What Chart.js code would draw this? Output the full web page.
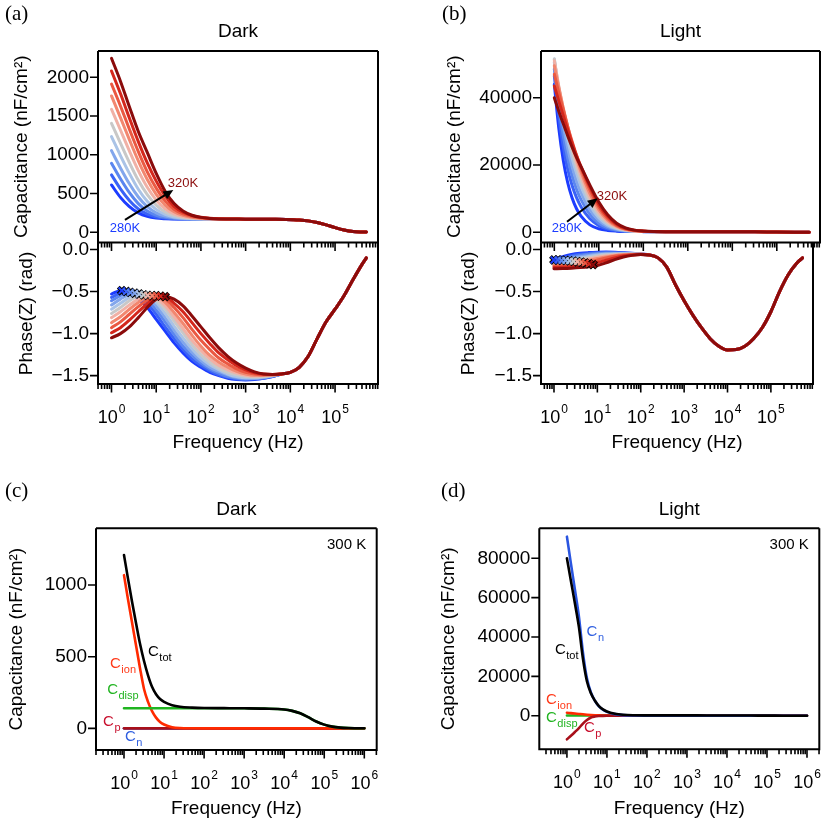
<!DOCTYPE html>
<html>
<head>
<meta charset="utf-8">
<script src="https://cdn.jsdelivr.net/npm/chart.js@4.4.1/dist/chart.umd.min.js"></script>
<style>
  html, body { margin: 0; padding: 0; background: #fff; }
  #wrap { position: relative; width: 822px; height: 820px; }
  #wrap canvas { position: absolute; left: 0; top: 0; }
</style>
</head>
<body>
<div id="wrap">
  <canvas id="capDark" width="822" height="820"></canvas>
  <canvas id="phaseDark" width="822" height="820"></canvas>
  <canvas id="capLight" width="822" height="820"></canvas>
  <canvas id="phaseLight" width="822" height="820"></canvas>
  <canvas id="partsDark" width="822" height="820"></canvas>
  <canvas id="partsLight" width="822" height="820"></canvas>
</div>
<script>
// ---------- data ----------
const temps = [280, 284, 288, 292, 296, 300, 304, 308, 312, 316, 320];
const tempColors = ['#1c3cff', '#3a62f6', '#5b86ef', '#82a6ec', '#aac3e6', '#c8c8c8',
                    '#f0b1a6', '#f2876f', '#ea5942', '#d4271c', '#8b0b0b'];

// (a) dark capacitance (nF/cm2), low-frequency part, one row per temperature
const fCapDark = [1, 1.585, 2.512, 3.981, 6.31, 10, 15.85, 25.12, 39.81, 63.1, 100, 158.5, 251.2, 398.1];
const capDark = [
  [610, 450, 330, 250, 205, 183, 175, 172, 171, 171, 171, 171, 170, 170],
  [740, 560, 410, 300, 235, 198, 182, 175, 172, 171, 171, 171, 170, 170],
  [890, 690, 510, 370, 275, 220, 192, 180, 174, 172, 171, 171, 170, 170],
  [1053, 830, 625, 455, 330, 250, 208, 187, 177, 173, 172, 171, 170, 170],
  [1234, 990, 760, 555, 400, 295, 230, 198, 183, 176, 173, 172, 171, 170],
  [1406, 1150, 900, 670, 485, 350, 262, 215, 191, 180, 175, 173, 171, 170],
  [1587, 1320, 1050, 795, 580, 415, 302, 238, 203, 186, 178, 174, 172, 171],
  [1759, 1480, 1195, 920, 680, 490, 350, 265, 218, 194, 182, 176, 173, 171],
  [1913, 1630, 1330, 1040, 780, 570, 405, 297, 236, 203, 187, 178, 174, 172],
  [2081, 1790, 1475, 1170, 895, 660, 470, 335, 258, 215, 193, 181, 175, 172],
  [2245, 1950, 1620, 1300, 1030, 760, 530, 370, 275, 220, 192, 178, 172, 171]
];
// common high-frequency part (all temperatures overlap)
const fCapDarkTail = [631, 1000, 1995, 3981, 7943, 15850, 25120, 39810, 63100, 100000, 158500, 251200, 398100, 501200];
const capDarkTail = [170, 169, 168, 167, 165, 158, 147, 125, 95, 60, 30, 10, 4, 3];

// (a) dark phase (rad)
const fPhaseDark = [1, 1.585, 2.512, 3.981, 6.31, 10, 15.85, 25.12, 39.81, 63.1, 100, 158.5, 251.2, 398.1,
                    631, 1000, 1585, 2512, 3981, 6310];
const phaseDark = [
  [-0.53, -0.49, -0.52, -0.59, -0.69, -0.83, -0.97, -1.11, -1.23, -1.33, -1.40, -1.46, -1.50, -1.53, -1.545, -1.55, -1.545, -1.53, -1.51, -1.48],
  [-0.57, -0.52, -0.505, -0.55, -0.64, -0.77, -0.92, -1.06, -1.19, -1.30, -1.38, -1.44, -1.49, -1.52, -1.54, -1.545, -1.54, -1.53, -1.51, -1.48],
  [-0.61, -0.55, -0.51, -0.53, -0.60, -0.72, -0.86, -1.01, -1.15, -1.26, -1.35, -1.42, -1.47, -1.51, -1.53, -1.54, -1.535, -1.525, -1.505, -1.48],
  [-0.66, -0.59, -0.535, -0.525, -0.57, -0.67, -0.81, -0.96, -1.10, -1.22, -1.32, -1.40, -1.45, -1.49, -1.52, -1.53, -1.53, -1.52, -1.50, -1.48],
  [-0.71, -0.64, -0.57, -0.53, -0.55, -0.63, -0.76, -0.91, -1.05, -1.18, -1.29, -1.37, -1.43, -1.48, -1.51, -1.525, -1.525, -1.515, -1.50, -1.48],
  [-0.76, -0.69, -0.61, -0.555, -0.545, -0.60, -0.71, -0.85, -0.99, -1.13, -1.25, -1.34, -1.41, -1.46, -1.49, -1.51, -1.515, -1.51, -1.495, -1.48],
  [-0.81, -0.74, -0.66, -0.59, -0.545, -0.575, -0.67, -0.80, -0.94, -1.08, -1.20, -1.30, -1.38, -1.43, -1.47, -1.495, -1.505, -1.50, -1.49, -1.48],
  [-0.87, -0.80, -0.71, -0.63, -0.565, -0.56, -0.63, -0.75, -0.88, -1.02, -1.15, -1.26, -1.34, -1.40, -1.45, -1.48, -1.495, -1.495, -1.49, -1.48],
  [-0.93, -0.86, -0.77, -0.68, -0.60, -0.55, -0.59, -0.69, -0.81, -0.95, -1.08, -1.19, -1.29, -1.36, -1.42, -1.46, -1.48, -1.49, -1.49, -1.48],
  [-0.99, -0.93, -0.84, -0.74, -0.645, -0.57, -0.565, -0.64, -0.74, -0.87, -1.00, -1.12, -1.23, -1.31, -1.38, -1.43, -1.465, -1.48, -1.485, -1.48],
  [-1.05, -1.00, -0.92, -0.81, -0.69, -0.59, -0.56, -0.59, -0.67, -0.79, -0.92, -1.05, -1.17, -1.27, -1.35, -1.41, -1.455, -1.48, -1.485, -1.48]
];
const fPhaseDarkTail = [10000, 15850, 25120, 39810, 63100, 100000, 158500, 251200, 398100, 501200];
const phaseDarkTail = [-1.46, -1.40, -1.27, -1.06, -0.86, -0.71, -0.55, -0.36, -0.18, -0.10];
// phase maxima marked with crosses
const peakFDark = [1.7, 2.14, 2.63, 3.31, 4.17, 5.25, 6.46, 8.13, 10, 12.6, 15.8];
const peakPhaseDark = [-0.49, -0.50, -0.51, -0.52, -0.53, -0.54, -0.545, -0.55, -0.55, -0.555, -0.56];

// (b) light capacitance
const fCapLight = [1, 1.259, 1.585, 1.995, 2.512, 3.162, 3.981, 6.31, 10, 15.85, 25.12, 39.81, 63.1, 100];
const capLight = [
  [44000, 31000, 21500, 14800, 10200, 7000, 4800, 2200, 1050, 550, 340, 250, 215, 200],
  [46500, 34500, 25500, 18800, 13900, 10300, 7600, 4000, 2000, 1000, 530, 330, 240, 205],
  [48500, 37500, 28800, 22000, 16800, 12800, 9700, 5300, 2700, 1350, 690, 400, 270, 215],
  [50500, 40000, 31800, 25000, 19500, 15200, 11800, 6700, 3500, 1750, 880, 480, 300, 225],
  [51500, 42000, 34200, 27500, 22000, 17500, 13700, 8000, 4300, 2200, 1100, 570, 330, 240],
  [51500, 43000, 35800, 29500, 24000, 19300, 15300, 9200, 5100, 2650, 1300, 660, 370, 260],
  [51000, 43500, 36800, 30800, 25500, 20800, 16800, 10400, 5900, 3100, 1550, 760, 410, 280],
  [49500, 43000, 37000, 31500, 26500, 22000, 18000, 11500, 6700, 3600, 1800, 880, 460, 300],
  [47000, 41500, 36500, 31500, 27000, 22800, 19000, 12600, 7500, 4100, 2050, 1000, 520, 320],
  [43500, 39000, 34700, 30500, 26500, 22800, 19500, 13500, 8300, 4700, 2400, 1150, 580, 350],
  [40000, 36000, 32300, 28700, 25300, 22200, 19500, 14000, 9000, 5200, 2700, 1300, 650, 380]
];
const fCapLightTail = [316.2, 1000, 3162, 10000, 31620, 100000, 251200, 537000];
const capLightTail = [180, 170, 165, 160, 130, 60, 15, 5];

// (b) light phase
const fPhaseLight = [1, 1.585, 2.512, 3.981, 6.31, 10, 15.85, 25.12, 39.81, 63.1, 100];
const phaseLight = [
  [-0.12, -0.085, -0.06, -0.045, -0.037, -0.032, -0.03, -0.032, -0.038, -0.046, -0.055],
  [-0.13, -0.10, -0.075, -0.058, -0.047, -0.04, -0.037, -0.038, -0.042, -0.048, -0.056],
  [-0.14, -0.115, -0.09, -0.072, -0.058, -0.048, -0.043, -0.043, -0.046, -0.05, -0.057],
  [-0.15, -0.13, -0.107, -0.087, -0.07, -0.058, -0.05, -0.048, -0.049, -0.052, -0.057],
  [-0.16, -0.145, -0.123, -0.102, -0.083, -0.068, -0.058, -0.053, -0.052, -0.054, -0.058],
  [-0.17, -0.158, -0.14, -0.118, -0.097, -0.08, -0.067, -0.059, -0.056, -0.056, -0.058],
  [-0.18, -0.17, -0.155, -0.135, -0.113, -0.093, -0.077, -0.066, -0.06, -0.058, -0.058],
  [-0.19, -0.183, -0.17, -0.152, -0.13, -0.108, -0.088, -0.073, -0.064, -0.06, -0.058],
  [-0.20, -0.196, -0.186, -0.17, -0.149, -0.125, -0.10, -0.08, -0.068, -0.062, -0.058],
  [-0.215, -0.211, -0.204, -0.193, -0.177, -0.155, -0.128, -0.10, -0.078, -0.066, -0.059],
  [-0.23, -0.227, -0.222, -0.215, -0.205, -0.19, -0.16, -0.12, -0.09, -0.07, -0.06]
];
const fPhaseLightTail = [158.5, 251.2, 398.1, 631, 1000, 1585, 2512, 3981, 6310, 10000, 15850, 25120,
                         39810, 63100, 100000, 158500, 251200, 398100, 537000];
const phaseLightTail = [-0.065, -0.10, -0.21, -0.42, -0.61, -0.78, -0.93, -1.06, -1.15, -1.195, -1.19, -1.15,
                        -1.06, -0.93, -0.74, -0.50, -0.30, -0.16, -0.10];
const peakFLight = [1, 1.23, 1.51, 1.86, 2.29, 2.82, 3.47, 4.27, 5.25, 6.46, 7.94];
const peakPhaseLight = [-0.125, -0.125, -0.13, -0.13, -0.135, -0.14, -0.145, -0.15, -0.16, -0.17, -0.18];

// (c), (d) capacitance components at 300 K
const fParts = [1, 1.259, 1.585, 1.995, 2.512, 3.162, 3.981, 5.012, 6.31, 7.943, 10, 15.85, 25.12, 50.12, 100,
                316.2, 1000, 3162, 10000, 15850, 25120, 39810, 63100, 100000, 158500, 251200, 398100, 631000, 1000000];
const darkTot  = [1210, 1045, 885, 735, 590, 470, 370, 290, 238, 205, 185, 162, 151, 145, 142,
                  141, 140, 138, 132, 122, 105, 78, 48, 26, 12, 5, 2, 1, 0.5];
const darkIon  = [1069, 900, 740, 580, 420, 275, 185, 120, 75, 45, 27, 8, 2, 0.5, 0,
                  0, 0, 0, 0, 0, 0, 0, 0, 0, 0, 0, 0, 0, 0];
const darkDisp = [140, 140, 140, 140, 140, 140, 140, 140, 140, 140, 140, 140, 140, 140, 140,
                  140, 140, 138, 132, 122, 105, 78, 48, 26, 12, 5, 2, 1, 0.5];
const darkP    = [0, 0, 0, 0, 0, 0, 0, 0, 0, 0, 0, 0, 0, 0, 0, 0, 0, 0, 0, 0, 0, 0, 0, 0, 0, 0, 0, 0, 0];
const darkN    = [0, 0, 0, 0, 0, 0, 0, 0, 0, 0, 0, 0, 0, 0, 0, 0, 0, 0, 0, 0, 0, 0, 0, 0, 0, 0, 0, 0, 0];

const lightTot  = [80000, 68500, 57000, 45000, 29000, 17500, 11400, 7600, 4900, 3200, 2100, 950, 450, 220, 170,
                   150, 145, 140, 135, 125, 110, 85, 55, 30, 15, 7, 3, 1, 0.5];
const lightN    = [91000, 77300, 64000, 50300, 32200, 19000, 11800, 7600, 4780, 3050, 1950, 800, 300, 80, 30,
                   10, 5, 0, 0, 0, 0, 0, 0, 0, 0, 0, 0, 0, 0];
const lightP    = [-12000, -10200, -8300, -6300, -4000, -2200, -900, -400, -180, -90, -50, -15, 0, 0, 0,
                   0, 0, 0, 0, 0, 0, 0, 0, 0, 0, 0, 0, 0, 0];
const lightIon  = [1500, 1300, 1100, 900, 700, 520, 370, 250, 160, 100, 60, 20, 6, 1, 0,
                   0, 0, 0, 0, 0, 0, 0, 0, 0, 0, 0, 0, 0, 0];
const lightDisp = [140, 140, 140, 140, 140, 140, 140, 140, 140, 140, 140, 140, 140, 140, 140,
                   140, 140, 138, 132, 122, 105, 78, 48, 26, 12, 5, 2, 1, 0.5];

// tick labels
const capDarkTicks = [0, 500, 1000, 1500, 2000];
const capLightTicks = [0, 20000, 40000];
const phaseTicks = [-1.5, -1.0, -0.5, 0];
const partsDarkTicks = [0, 500, 1000];
const partsLightTicks = [0, 20000, 40000, 60000, 80000];
const decadesAB = [0, 1, 2, 3, 4, 5];
const decadesCD = [0, 1, 2, 3, 4, 5, 6];

const partColors = { tot: '#000000', ion: '#ff2a00', disp: '#1fb41f', p: '#a8101a', n: '#2a55e0' };
const partLabelColors = { tot: '#000000', ion: '#ff3a1a', disp: '#22b422', p: '#c8102e', n: '#2f5fe0' };

Chart.defaults.font.family = '"Liberation Sans", Arial, sans-serif';
Chart.defaults.color = '#000';

// ---------- helpers ----------
function pts(fs, vs) {
  return fs.map((f, i) => ({ x: f, y: vs[i] }));
}

function tempSets(fLow, rows, fTail, tail) {
  return rows.map((row, i) => ({
    data: pts(fLow.concat(fTail), row.concat(tail)),
    borderColor: tempColors[i],
    borderWidth: 3
  }));
}

function markerSets(fs, vs) {
  const data = pts(fs, vs);
  return [
    { data, showLine: false, pointStyle: 'crossRot', pointRadius: 5, pointBorderWidth: 4, pointBorderColor: '#000' },
    { data, showLine: false, pointStyle: 'crossRot', pointRadius: 4.5, pointBorderWidth: 2, pointBorderColor: tempColors }
  ];
}

function partSet(vs, key) {
  return { data: pts(fParts, vs), borderColor: partColors[key], borderWidth: 2.6 };
}

function drawSub(ctx, main, sub, x, y, color, size, align) {
  ctx.font = size + 'px "Liberation Sans"';
  const w = ctx.measureText(main).width;
  ctx.font = Math.round(size * 0.7) + 'px "Liberation Sans"';
  const ws = sub ? ctx.measureText(sub).width : 0;
  let x0 = x;
  if (align === 'center') x0 = x - (w + ws) / 2;
  ctx.fillStyle = color;
  ctx.textAlign = 'left';
  ctx.textBaseline = 'middle';
  ctx.font = size + 'px "Liberation Sans"';
  ctx.fillText(main, x0, y);
  if (sub) {
    ctx.font = Math.round(size * 0.7) + 'px "Liberation Sans"';
    ctx.fillText(sub, x0 + w + 0.5, y + size * 0.4);
  }
}

// frame, outward ticks, decade labels, titles and annotations
const decor = {
  id: 'decor',
  afterDraw(chart, args, o) {
    const { ctx, chartArea: a, scales: { x, y } } = chart;
    ctx.save();
    ctx.strokeStyle = '#000';
    ctx.fillStyle = '#000';

    // frame (phase panels share the top edge with the panel above)
    ctx.lineWidth = 2;
    ctx.beginPath();
    if (!o.noTop) {
      ctx.moveTo(a.left, a.top); ctx.lineTo(a.right, a.top);
    }
    ctx.moveTo(a.left, a.top); ctx.lineTo(a.left, a.bottom);
    ctx.lineTo(a.right, a.bottom); ctx.lineTo(a.right, a.top);
    ctx.stroke();

    // y ticks
    ctx.lineWidth = 1.6;
    ctx.beginPath();
    y.ticks.forEach(t => {
      const py = y.getPixelForValue(t.value);
      ctx.moveTo(a.left - 8, py); ctx.lineTo(a.left, py);
    });
    // log x ticks
    const lo = Math.floor(Math.log10(x.min)), hi = Math.ceil(Math.log10(x.max));
    for (let k = lo; k <= hi; k++) {
      for (let m = 1; m < 10; m++) {
        const v = m * Math.pow(10, k);
        if (v < x.min || v > x.max) continue;
        const px = x.getPixelForValue(v);
        ctx.moveTo(px, a.bottom); ctx.lineTo(px, a.bottom + (m === 1 ? 8.5 : 5));
      }
    }
    ctx.stroke();

    // decade labels 10^k
    if (o.decades) {
      o.decades.forEach(k => {
        const px = x.getPixelForValue(Math.pow(10, k));
        ctx.font = '18px "Liberation Sans"';
        const w1 = ctx.measureText('10').width;
        ctx.font = '12px "Liberation Sans"';
        const w2 = ctx.measureText(String(k)).width;
        const x0 = px - (w1 + w2 + 1) / 2;
        ctx.textAlign = 'left';
        ctx.textBaseline = 'alphabetic';
        ctx.font = '18px "Liberation Sans"';
        ctx.fillText('10', x0, a.bottom + 39);
        ctx.font = '12px "Liberation Sans"';
        ctx.fillText(String(k), x0 + w1 + 1, a.bottom + 29);
      });
    }

    // panel title and letter
    if (o.title) {
      ctx.font = '19px "Liberation Sans"';
      ctx.textAlign = 'center';
      ctx.textBaseline = 'middle';
      ctx.fillText(o.title, (a.left + a.right) / 2, a.top - 19);
    }
    if (o.letter) {
      ctx.font = '21px "Liberation Serif"';
      ctx.textAlign = 'left';
      ctx.textBaseline = 'middle';
      ctx.fillText(o.letter.text, o.letter.x, o.letter.y);
    }
    if (o.corner) {
      ctx.font = '15px "Liberation Sans"';
      ctx.textAlign = 'right';
      ctx.textBaseline = 'middle';
      ctx.fillText(o.corner, a.right - 10.5, a.top + 17);
    }

    // arrow between data positions
    if (o.arrow) {
      const x0 = x.getPixelForValue(o.arrow.f0), y0 = y.getPixelForValue(o.arrow.v0);
      const x1 = x.getPixelForValue(o.arrow.f1), y1 = y.getPixelForValue(o.arrow.v1);
      const ang = Math.atan2(y1 - y0, x1 - x0);
      ctx.lineWidth = 2;
      ctx.beginPath();
      ctx.moveTo(x0, y0);
      ctx.lineTo(x1 - 7 * Math.cos(ang), y1 - 7 * Math.sin(ang));
      ctx.stroke();
      ctx.beginPath();
      ctx.moveTo(x1, y1);
      ctx.lineTo(x1 - 10 * Math.cos(ang) + 4.5 * Math.sin(ang), y1 - 10 * Math.sin(ang) - 4.5 * Math.cos(ang));
      ctx.lineTo(x1 - 10 * Math.cos(ang) - 4.5 * Math.sin(ang), y1 - 10 * Math.sin(ang) + 4.5 * Math.cos(ang));
      ctx.closePath();
      ctx.fill();
    }

    // text notes placed at data positions
    (o.notes || []).forEach(n => {
      drawSub(ctx, n.text, n.sub, x.getPixelForValue(n.f), y.getPixelForValue(n.v), n.color, n.size, n.align);
    });
    ctx.restore();
  }
};

function makeChart(id, c) {
  const datasets = c.datasets.slice().reverse(); // first dataset is drawn on top
  return new Chart(document.getElementById(id), {
    type: 'line',
    data: { datasets },
    options: {
      responsive: false,
      animation: false,
      devicePixelRatio: 1,
      events: [],
      layout: { padding: c.pad },
      elements: {
        point: { radius: 0 },
        line: { cubicInterpolationMode: 'monotone', borderCapStyle: 'round', borderJoinStyle: 'round' }
      },
      plugins: { legend: { display: false }, tooltip: { enabled: false }, decor: c.decor },
      scales: {
        x: {
          type: 'logarithmic', min: c.xMin, max: c.xMax,
          afterFit: s => { s.height = c.xH; },
          ticks: { display: false },
          grid: { display: false, drawTicks: false },
          border: { display: false },
          title: { display: !!c.xTitle, text: c.xTitle || '', font: { size: 19 }, color: '#000', padding: 0 }
        },
        y: {
          type: 'linear', min: c.yMin, max: c.yMax,
          afterFit: s => { s.width = c.yW; },
          afterBuildTicks: s => { s.ticks = c.yTicks.map(v => ({ value: v })); },
          ticks: { padding: 9, font: { size: 19 }, color: '#000', callback: c.fmt },
          grid: { display: false, drawTicks: false },
          border: { display: false },
          title: { display: true, text: c.yTitle, font: { size: 19 }, color: '#000', padding: 0 }
        }
      }
    },
    plugins: [decor]
  });
}

const fmtInt = v => String(Math.round(v));
const fmtPhase = v => Math.abs(v) < 1e-9 ? '0.0' : v.toFixed(1).replace('-', '\u2212');
const capTitle = 'Capacitance (nF/cm\u00B2)';

// (a) top
makeChart('capDark', {
  datasets: tempSets(fCapDark, capDark, fCapDarkTail, capDarkTail),
  xMin: 0.499, xMax: 9.13e5, yMin: -132, yMax: 2339, yTicks: capDarkTicks, fmt: fmtInt,
  pad: { left: 10.1, top: 51, right: 444, bottom: 567.5 }, yW: 87.9, xH: 10,
  yTitle: capTitle,
  decor: {
    title: 'Dark', letter: { text: '(a)', x: 5, y: 14 },
    arrow: { f0: 2.0, v0: 159, f1: 24.1, v1: 546 },
    notes: [
      { text: '280K', f: 2.0, v: 49, color: '#1c3cff', size: 13, align: 'center' },
      { text: '320K', f: 39.8, v: 636, color: '#8b0b0b', size: 13, align: 'center' }
    ]
  }
});

// (a) bottom
makeChart('phaseDark', {
  datasets: tempSets(fPhaseDark, phaseDark, fPhaseDarkTail, phaseDarkTail)
    .concat(markerSets(peakFDark, peakPhaseDark)),
  xMin: 0.499, xMax: 9.13e5, yMin: -1.599, yMax: 0.077, yTicks: phaseTicks, fmt: fmtPhase,
  pad: { left: 15.6, top: 243, right: 444, bottom: 365.6 }, yW: 82.4, xH: 70.4,
  yTitle: 'Phase(Z) (rad)', xTitle: 'Frequency (Hz)',
  decor: { noTop: true, decades: decadesAB }
});

// (b) top
makeChart('capLight', {
  datasets: tempSets(fCapLight, capLight, fCapLightTail, capLightTail),
  xMin: 0.502, xMax: 9.35e5, yMin: -3031, yMax: 53877, yTicks: capLightTicks, fmt: fmtInt,
  pad: { left: 443.6, top: 51, right: 2, bottom: 567.5 }, yW: 97.4, xH: 10,
  yTitle: capTitle,
  decor: {
    title: 'Light', letter: { text: '(b)', x: 442, y: 14 },
    arrow: { f0: 1.93, v0: 3150, f1: 9.44, v1: 10100 },
    notes: [
      { text: '280K', f: 1.93, v: 1130, color: '#1c3cff', size: 13, align: 'center' },
      { text: '320K', f: 19.8, v: 10790, color: '#8b0b0b', size: 13, align: 'center' }
    ]
  }
});

// (b) bottom
makeChart('phaseLight', {
  datasets: tempSets(fPhaseLight, phaseLight, fPhaseLightTail, phaseLightTail)
    .concat(markerSets(peakFLight, peakPhaseLight)),
  xMin: 0.502, xMax: 9.35e5, yMin: -1.599, yMax: 0.077, yTicks: phaseTicks, fmt: fmtPhase,
  pad: { left: 457.6, top: 243, right: 2, bottom: 365.6 }, yW: 83.4, xH: 70.4,
  yTitle: 'Phase(Z) (rad)', xTitle: 'Frequency (Hz)',
  decor: { noTop: true, decades: decadesAB }
});

// (c)
makeChart('partsDark', {
  datasets: [partSet(darkN, 'n'), partSet(darkP, 'p'), partSet(darkIon, 'ion'),
             partSet(darkDisp, 'disp'), partSet(darkTot, 'tot')],
  xMin: 0.2, xMax: 2.04e6, yMin: -151, yMax: 1396, yTicks: partsDarkTicks, fmt: fmtInt,
  pad: { left: 5.6, top: 528.3, right: 445.3, bottom: 0 }, yW: 90.4, xH: 70,
  yTitle: capTitle, xTitle: 'Frequency (Hz)',
  decor: {
    title: 'Dark', letter: { text: '(c)', x: 5, y: 491 }, corner: '300 K', decades: decadesCD,
    notes: [
      { text: 'C', sub: 'tot', f: 3.98, v: 535, color: partLabelColors.tot, size: 15 },
      { text: 'C', sub: 'ion', f: 0.447, v: 449, color: partLabelColors.ion, size: 15 },
      { text: 'C', sub: 'disp', f: 0.38, v: 267, color: partLabelColors.disp, size: 15 },
      { text: 'C', sub: 'p', f: 0.30, v: 44, color: partLabelColors.p, size: 15 },
      { text: 'C', sub: 'n', f: 1.06, v: -61, color: partLabelColors.n, size: 15 }
    ]
  }
});

// (d)
makeChart('partsLight', {
  datasets: [partSet(lightDisp, 'disp'), partSet(lightIon, 'ion'), partSet(lightP, 'p'),
             partSet(lightN, 'n'), partSet(lightTot, 'tot')],
  xMin: 0.204, xMax: 2.03e6, yMin: -17077, yMax: 95250, yTicks: partsLightTicks, fmt: fmtInt,
  pad: { left: 437.6, top: 528.3, right: 2.7, bottom: 0 }, yW: 101.7, xH: 70.7,
  yTitle: capTitle, xTitle: 'Frequency (Hz)',
  decor: {
    title: 'Light', letter: { text: '(d)', x: 441, y: 491 }, corner: '300 K', decades: decadesCD,
    notes: [
      { text: 'C', sub: 'n', f: 3.1, v: 42540, color: partLabelColors.n, size: 15 },
      { text: 'C', sub: 'tot', f: 0.5, v: 33390, color: partLabelColors.tot, size: 15 },
      { text: 'C', sub: 'ion', f: 0.3, v: 7980, color: partLabelColors.ion, size: 15 },
      { text: 'C', sub: 'disp', f: 0.3, v: -1170, color: partLabelColors.disp, size: 15 },
      { text: 'C', sub: 'p', f: 2.66, v: -6250, color: partLabelColors.p, size: 15 }
    ]
  }
});
</script>
</body>
</html>
